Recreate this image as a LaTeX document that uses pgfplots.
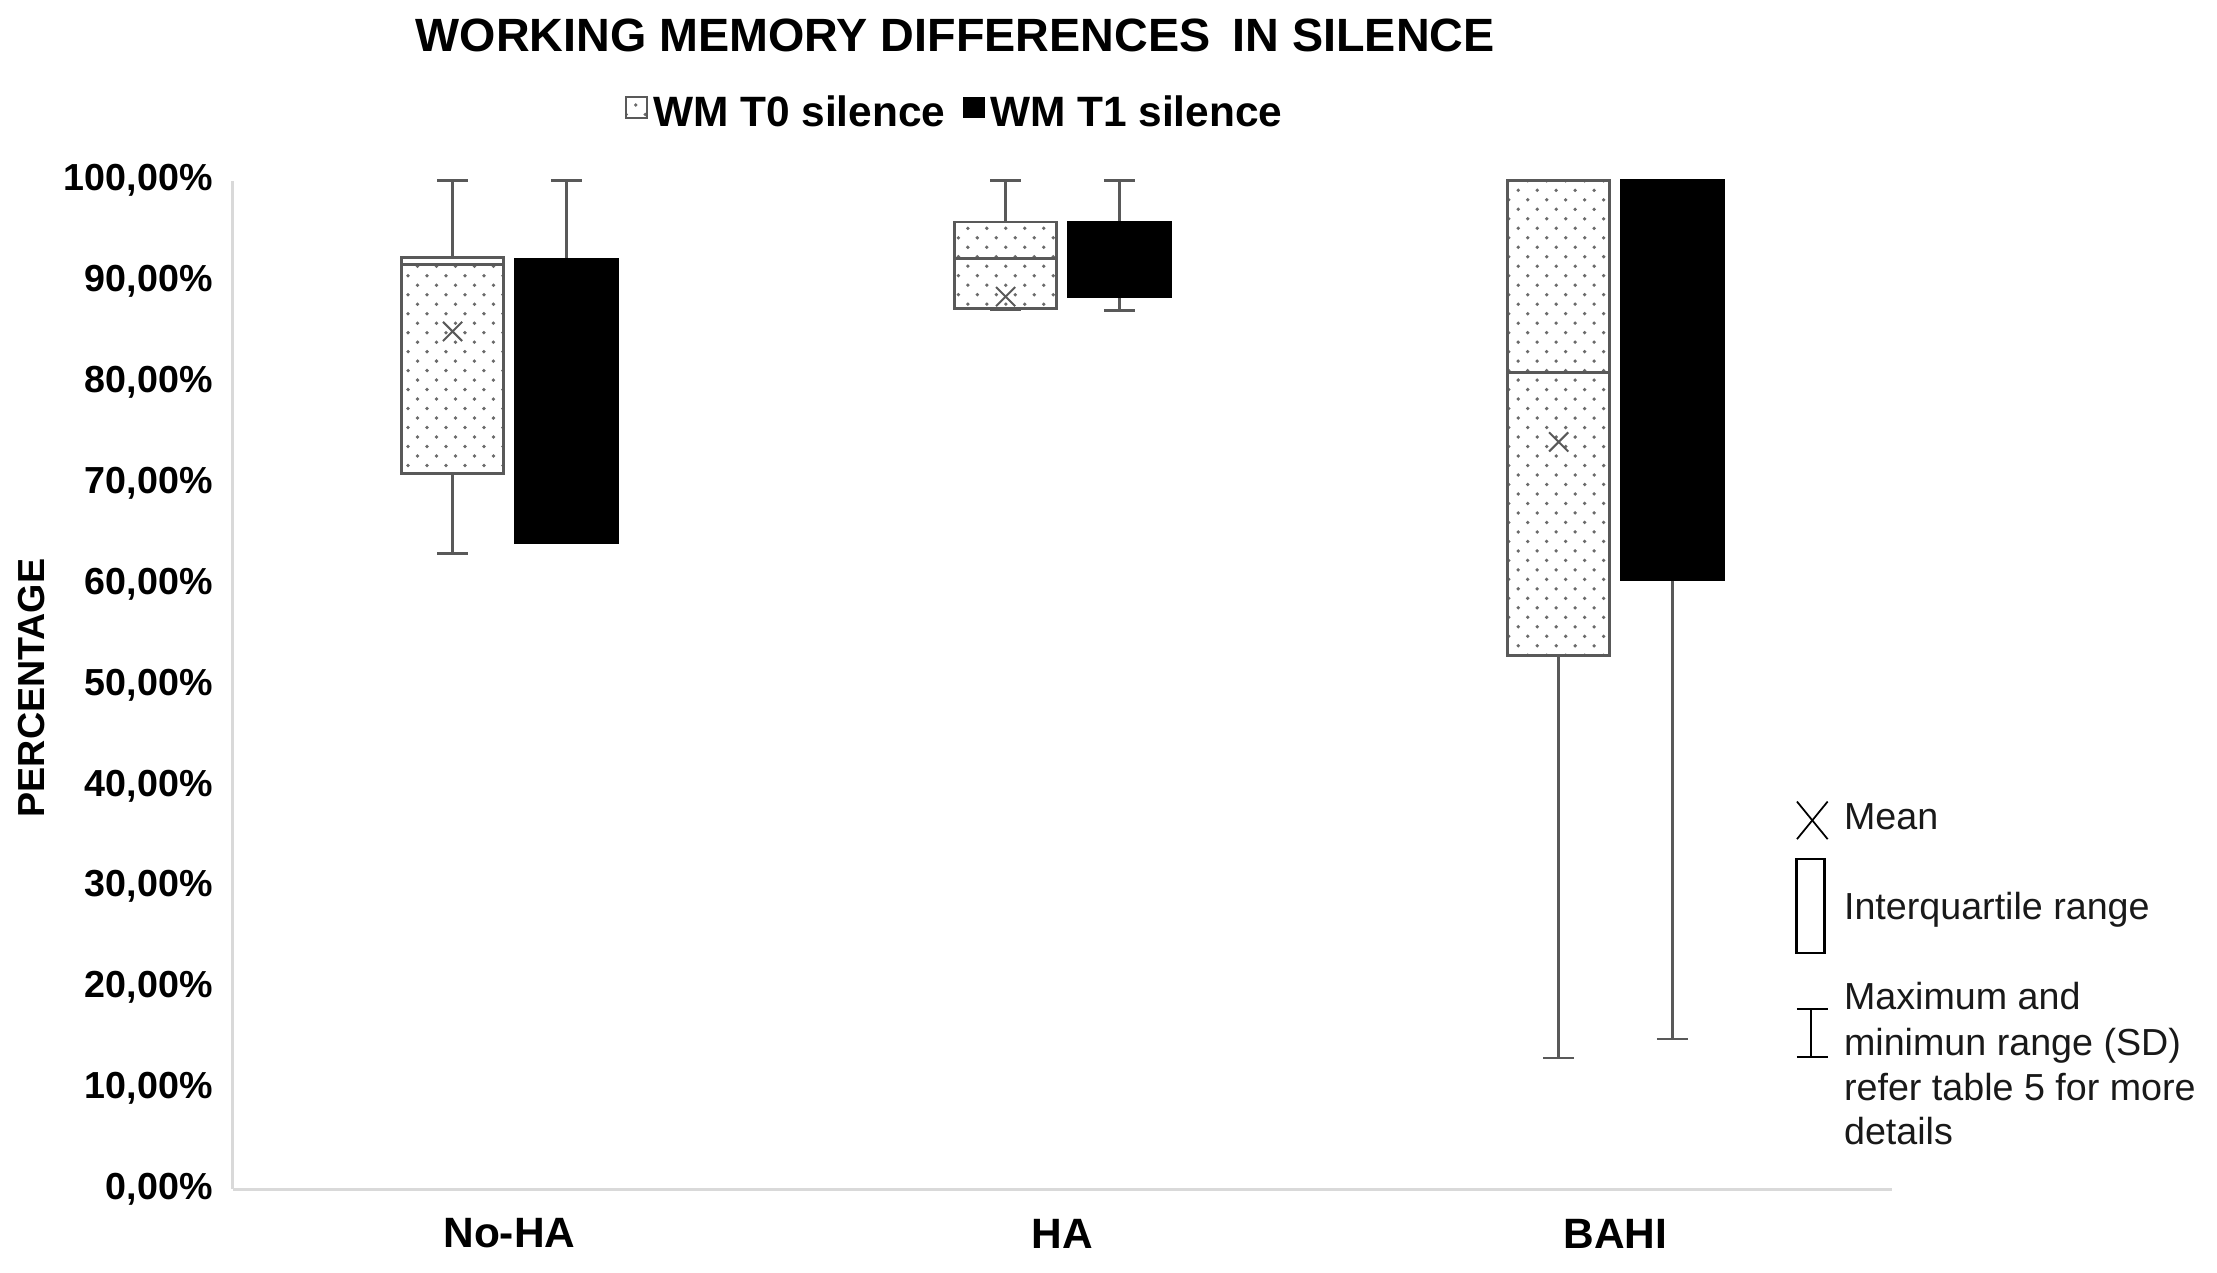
\documentclass[border=0pt]{standalone}
\usepackage{fontspec}
\setmainfont{Liberation Sans}
\usepackage{pgfplots}
\pgfplotsset{compat=1.18}
\usetikzlibrary{patterns}

\definecolor{wgray}{HTML}{595959}
\definecolor{axgray}{HTML}{D9D9D9}
\definecolor{dotgray}{HTML}{6A6A6A}

% staggered dot fill of the T0 boxes
\pgfdeclarepatternformonly{sdots}{\pgfqpoint{-1pt}{-1pt}}{\pgfqpoint{8.56pt}{8.56pt}}{\pgfqpoint{7.56pt}{7.56pt}}{%
  \pgfpathcircle{\pgfqpoint{0pt}{0pt}}{0.75pt}%
  \pgfpathcircle{\pgfqpoint{3.78pt}{3.78pt}}{0.75pt}%
  \pgfusepath{fill}}

\pgfplotsset{
  whisk/.style={draw=wgray, line width=1.1pt, forget plot, mark=none},
  boxzero/.style={draw=wgray, line width=1.1pt, pattern=sdots, pattern color=dotgray, forget plot, mark=none},
  boxone/.style={draw=black, line width=1pt, fill=black, forget plot, mark=none},
}
\tikzset{keytext/.style={anchor=base west, inner sep=0pt, text=black!90, font=\fontsize{15pt}{18pt}\selectfont}}

\begin{document}
\begin{tikzpicture}
\useasboundingbox (-32.6mm,-11.6mm) rectangle (277.8mm,166.5mm);
\begin{axis}[
    at={(0,0)}, anchor=south west,
    scale only axis,
    width=232.3mm, height=141.2mm,
    xmin=0.5, xmax=3.5,
    ymin=0, ymax=100,
    clip=false,
    axis x line*=bottom, axis y line*=left,
    axis line style={draw=axgray, line width=1.2pt},
    tick style={draw=none},
    xtick={1,2,3},
    xticklabels={No-HA,HA,BAHI},
    ytick={0,10,20,30,40,50,60,70,80,90,100},
    yticklabels={{0,00\%},{10,00\%},{20,00\%},{30,00\%},{40,00\%},{50,00\%},{60,00\%},{70,00\%},{80,00\%},{90,00\%},{100,00\%}},
    yticklabel style={anchor=east, inner sep=0pt, xshift=-2.76mm, font=\fontsize{15pt}{18pt}\selectfont\bfseries},
    xticklabel style={anchor=center, inner sep=0pt, yshift=-6.2mm, font=\fontsize{16.9pt}{20pt}\selectfont\bfseries},
    ylabel={PERCENTAGE},
    ylabel style={at={(axis description cs:-0.1214,0.497)}, anchor=center, inner sep=0pt, font=\fontsize{15pt}{18pt}\selectfont\bfseries},
    title={WORKING MEMORY DIFFERENCES\hspace{0.2em} IN SILENCE},
    title style={at={(axis description cs:0.4354,1.129)}, anchor=center, inner sep=0pt, font=\fontsize{18.6pt}{22pt}\selectfont\bfseries},
    legend columns=2,
    legend style={at={(axis description cs:0.4361,1.0667)}, anchor=center, draw=none, fill=none,
      font=\fontsize{16.9pt}{20pt}\selectfont\bfseries,
      /tikz/every even column/.append style={column sep=1.8mm}},
    legend cell align=left,
    legend image code/.code={\draw[#1] (0mm,-0.6mm) rectangle (2.9mm,2.3mm);},
]

\addlegendimage{draw=wgray, line width=0.8pt, pattern=sdots, pattern color=dotgray}
\addlegendentry{WM T0 silence}
\addlegendimage{draw=black, fill=black}
\addlegendentry{WM T1 silence}

% ---- No-HA, T0: min 63.0, Q1 71.0, median 91.7, Q3 92.4, max 100 (centre 0.8973)
\addplot[whisk] coordinates {(0.8973,63.0) (0.8973,71.0)};
\addplot[whisk] coordinates {(0.8973,92.4) (0.8973,100)};
\addplot[whisk] coordinates {(0.8693,63.0) (0.9253,63.0)};
\addplot[whisk] coordinates {(0.8693,100) (0.9253,100)};
\addplot[boxzero] coordinates {(0.8050,71.0) (0.9896,71.0) (0.9896,92.4) (0.8050,92.4)} -- cycle;
\addplot[whisk] coordinates {(0.8050,91.7) (0.9896,91.7)};
% ---- No-HA, T1: min = Q1 64.1, Q3 92.2, max 100 (centre 1.1029)
\addplot[whisk] coordinates {(1.1029,92.2) (1.1029,100)};
\addplot[whisk] coordinates {(1.0749,100) (1.1309,100)};
\addplot[boxone] coordinates {(1.0106,64.1) (1.1952,64.1) (1.1952,92.2) (1.0106,92.2)} -- cycle;

% ---- HA, T0: min 87.2, Q1 87.3, median 92.3, Q3 95.9, max 100
\addplot[whisk] coordinates {(1.8973,95.9) (1.8973,100)};
\addplot[whisk] coordinates {(1.8693,87.2) (1.9253,87.2)};
\addplot[whisk] coordinates {(1.8693,100) (1.9253,100)};
\addplot[boxzero] coordinates {(1.8050,87.3) (1.9896,87.3) (1.9896,95.9) (1.8050,95.9)} -- cycle;
\addplot[whisk] coordinates {(1.8050,92.3) (1.9896,92.3)};
% ---- HA, T1: min 87.1, Q1 88.5, Q3 95.9, max 100
\addplot[whisk] coordinates {(2.1029,87.1) (2.1029,88.5)};
\addplot[whisk] coordinates {(2.1029,95.9) (2.1029,100)};
\addplot[whisk] coordinates {(2.0749,87.1) (2.1309,87.1)};
\addplot[whisk] coordinates {(2.0749,100) (2.1309,100)};
\addplot[boxone] coordinates {(2.0106,88.5) (2.1952,88.5) (2.1952,95.9) (2.0106,95.9)} -- cycle;

% ---- BAHI, T0: min 13.0, Q1 52.9, median 81.0, Q3 = max 100
\addplot[whisk] coordinates {(2.8973,13.0) (2.8973,52.9)};
\addplot[whisk] coordinates {(2.8693,13.0) (2.9253,13.0)};
\addplot[boxzero] coordinates {(2.8050,52.9) (2.9896,52.9) (2.9896,100) (2.8050,100)} -- cycle;
\addplot[whisk] coordinates {(2.8050,81.0) (2.9896,81.0)};
% ---- BAHI, T1: min 14.9, Q1 60.4, Q3 = max 100
\addplot[whisk] coordinates {(3.1029,14.9) (3.1029,60.4)};
\addplot[whisk] coordinates {(3.0749,14.9) (3.1309,14.9)};
\addplot[boxone] coordinates {(3.0106,60.4) (3.1952,60.4) (3.1952,100) (3.0106,100)} -- cycle;

% means of the T0 boxes
\addplot[forget plot, only marks, mark=x, mark size=5.4pt, mark options={draw=wgray, line width=0.8pt}]
    coordinates {(0.8973,85.05) (1.8973,88.5) (2.8973,74.1)};

% key on the right
\draw[black, line width=0.7pt] (axis description cs:0.9427,0.3471) -- (axis description cs:0.9612,0.3844);
\draw[black, line width=0.7pt] (axis description cs:0.9427,0.3844) -- (axis description cs:0.9612,0.3471);
\draw[black, line width=0.9pt] (axis description cs:0.9424,0.2341) rectangle (axis description cs:0.9593,0.3276);
\draw[black, line width=0.8pt] (axis description cs:0.9512,0.1309) -- (axis description cs:0.9512,0.1785);
\draw[black, line width=0.8pt] (axis description cs:0.9427,0.1785) -- (axis description cs:0.9612,0.1785);
\draw[black, line width=0.8pt] (axis description cs:0.9427,0.1309) -- (axis description cs:0.9612,0.1309);
\node[keytext] at (axis description cs:0.9708,0.3563) {Mean};
\node[keytext] at (axis description cs:0.9708,0.2678) {Interquartile range};
\node[keytext] at (axis description cs:0.9708,0.1785) {Maximum and};
\node[keytext] at (axis description cs:0.9708,0.1327) {minimun range (SD)};
\node[keytext] at (axis description cs:0.9708,0.0876) {refer table 5 for more};
\node[keytext] at (axis description cs:0.9708,0.0447) {details};
\end{axis}
\end{tikzpicture}
\end{document}
